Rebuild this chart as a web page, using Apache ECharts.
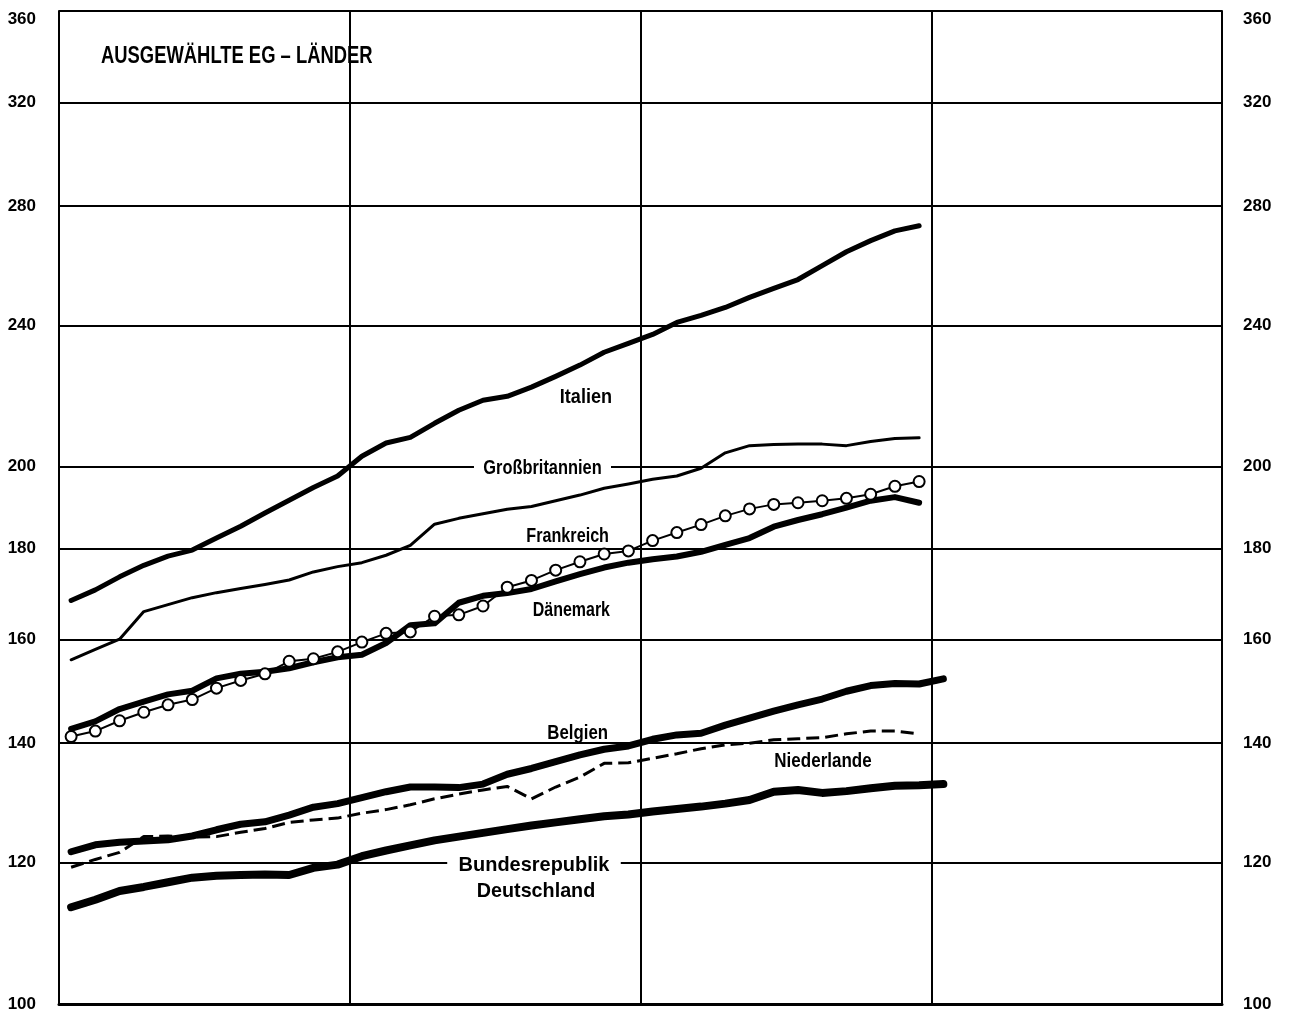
<!DOCTYPE html>
<html><head><meta charset="utf-8">
<script src="https://cdn.jsdelivr.net/npm/echarts@6/dist/echarts.min.js"></script>
<style>html,body{margin:0;padding:0;background:#fff}#c{width:1290px;height:1016px}</style>
</head><body><div id="c"></div>
<script>
const months = ['1-01','1-02','1-03','1-04','1-05','1-06','1-07','1-08','1-09','1-10','1-11','1-12',
  '2-01','2-02','2-03','2-04','2-05','2-06','2-07','2-08','2-09','2-10','2-11','2-12',
  '3-01','3-02','3-03','3-04','3-05','3-06','3-07','3-08','3-09','3-10','3-11','3-12',
  '4-01','4-02','4-03','4-04','4-05','4-06','4-07','4-08','4-09','4-10','4-11','4-12'];
const yTicks = [100,120,140,160,180,200,240,280,320,360];

const italien = [168.3,170.6,173.5,176.1,178.2,179.6,182.4,185.2,188.4,191.5,194.7,197.6,202.7,206.2,207.7,211.5,215.1,217.9,219.0,221.6,224.7,228.0,231.8,234.5,237.2,240.9,243.1,245.6,248.8,251.7,254.6,259.2,263.9,267.7,271.1,272.9];
const grossbritannien = [155.9,158.0,160.1,165.9,167.4,168.9,170.0,170.9,171.8,172.8,174.6,175.8,176.7,178.4,180.7,185.7,187.1,188.2,189.3,190.0,191.4,192.8,194.5,195.6,196.8,197.6,199.6,203.6,205.5,205.8,205.9,205.9,205.5,206.6,207.4,207.6];
const frankreich = [141.2,142.2,144.1,145.7,147.1,148.1,150.3,151.8,153.1,155.6,156.1,157.5,159.5,161.3,161.6,164.9,165.2,167.1,171.2,172.7,175.0,176.9,178.7,179.4,181.8,183.7,185.6,187.7,189.4,190.5,190.9,191.4,192.0,193.0,195.0,196.2];
const daenemark = [142.6,144.0,146.3,147.7,149.1,149.8,152.2,153.1,153.5,154.2,155.4,156.4,156.9,159.3,163.0,163.4,167.8,169.3,169.9,170.8,172.5,174.1,175.6,176.7,177.5,178.1,179.2,180.8,182.4,185.1,186.7,188.1,189.7,191.4,192.3,190.9];
const belgien = [121.7,122.8,123.2,123.4,123.6,124.2,125.2,126.1,126.5,127.6,128.9,129.5,130.5,131.5,132.3,132.3,132.2,132.8,134.5,135.5,136.7,137.9,138.9,139.5,140.7,141.5,141.8,143.3,144.6,145.9,147.1,148.2,149.7,150.8,151.2,151.1,152.1];
const niederlande = [119.3,120.5,121.6,124.1,124.2,124.0,124.1,124.8,125.4,126.4,126.8,127.1,127.9,128.5,129.3,130.3,131.1,131.8,132.4,130.3,132.3,134.0,136.4,136.5,137.3,138.1,139.0,139.7,140.0,140.6,140.8,141.0,141.7,142.2,142.2,141.7];
const deutschland = [113.3,114.4,115.7,116.3,117.0,117.7,118.0,118.1,118.2,118.1,119.2,119.7,121.0,121.9,122.7,123.5,124.1,124.7,125.3,125.9,126.4,126.9,127.4,127.7,128.2,128.6,129.0,129.5,130.1,131.5,131.8,131.3,131.6,132.1,132.5,132.6,132.8];

const FF = '"Liberation Sans",Arial,sans-serif';
const chart = echarts.init(document.getElementById('c'));

function yAxisCfg(pos, margin, split) {
  return {
    type: 'log', logBase: 10, min: 100, max: 360, position: pos,
    axisLine: {show: true, lineStyle: {color: '#000', width: 2}},
    axisTick: {show: false, customValues: yTicks},
    axisLabel: {customValues: yTicks, color: '#000', fontSize: 17, fontWeight: 'bold',
      fontFamily: FF, margin: margin, verticalAlignMaxLabel: 'top'},
    splitLine: {show: split, lineStyle: {color: '#000', width: 2}}
  };
}

function lineSeries(name, data, width, extra) {
  return Object.assign({
    name: name, type: 'line', data: data, yAxisIndex: 0,
    symbol: 'none', smooth: false,
    lineStyle: {color: '#000', width: width, cap: 'round', join: 'round'},
    itemStyle: {color: '#000'}
  }, extra || {});
}

function label(text, x, y, align, size, sx, bg) {
  const style = {text: text, x: 0, y: 0, fill: '#000', align: align, verticalAlign: 'middle',
    font: 'bold ' + size + 'px ' + FF};
  if (bg) { style.backgroundColor = '#fff'; style.padding = [3, 12]; }
  return {type: 'text', z: 100, x: x, y: y, scaleX: sx, scaleY: 1, style: style};
}

chart.setOption({
  animation: false,
  backgroundColor: '#fff',
  grid: {left: 59, right: 68, top: 11, bottom: 12},
  xAxis: {
    type: 'category', data: months, boundaryGap: true,
    axisLabel: {show: false}, axisTick: {show: false},
    axisLine: {show: true, lineStyle: {color: '#000', width: 3}},
    splitLine: {show: true, interval: 11, lineStyle: {color: '#000', width: 2}}
  },
  yAxis: [yAxisCfg('left', 23, true), yAxisCfg('right', 21, false)],
  series: [
    lineSeries('Bundesrepublik Deutschland', deutschland, 8),
    lineSeries('Niederlande', niederlande, 3, {lineStyle: {color: '#000', width: 3, type: [13, 6]}}),
    lineSeries('Belgien', belgien, 7),
    lineSeries('Dänemark', daenemark, 6),
    lineSeries('Großbritannien', grossbritannien, 3),
    lineSeries('Italien', italien, 5),
    lineSeries('Frankreich', frankreich, 2, {
      symbol: 'circle', symbolSize: 11, showAllSymbol: true,
      itemStyle: {color: '#fff', borderColor: '#000', borderWidth: 2}
    })
  ],
  graphic: [
    label('AUSGEWÄHLTE EG – LÄNDER', 101, 57, 'left', 23, 0.8, false),
    label('Italien', 612, 397, 'right', 21, 0.86, false),
    label('Großbritannien', 611, 468, 'right', 21, 0.78, true),
    label('Frankreich', 609, 536, 'right', 21, 0.77, false),
    label('Dänemark', 610, 610, 'right', 21, 0.76, false),
    label('Belgien', 608, 733, 'right', 21, 0.8, false),
    label('Niederlande', 823, 761, 'center', 21, 0.81, false),
    label('Bundesrepublik', 534, 865, 'center', 21, 0.95, true),
    label('Deutschland', 536, 891, 'center', 21, 0.94, false)
  ]
});
</script></body></html>
